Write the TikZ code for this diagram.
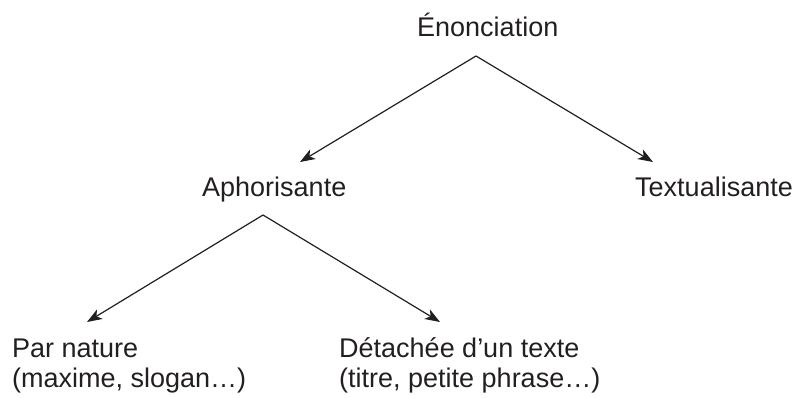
\documentclass[tikz,border=0pt]{standalone}
\usepackage{fontspec}
\setmainfont{Liberation Sans}
\usetikzlibrary{arrows.meta}
\definecolor{ink}{HTML}{231F20}
\begin{document}
\begin{tikzpicture}[x=1pt,y=-1pt,
  lbl/.style={inner sep=0pt,anchor=base west,text=ink,font=\fontsize{27}{31}\selectfont,align=left},
  arr/.style={draw=ink,line width=1.2pt,-{Stealth[length=15pt,width=11pt,inset=4pt]}}]
\useasboundingbox (0,0) rectangle (796,398);
\node[lbl] (enon) at (417,37) {Énonciation};
\node[lbl] (aph) at (202,197) {Aphorisante};
\node[lbl] (text) at (635,197) {Textualisante};
\node[lbl] (nat) at (12,388) {Par nature\\(maxime, slogan…)};
\node[lbl] (det) at (339,388) {Détachée d’un texte\\(titre, petite phrase…)};
\coordinate (e0) at (476,56);
\coordinate (e1) at (300,162);
\coordinate (e2) at (653,162);
\coordinate (a0) at (263,215);
\coordinate (a1) at (87,322);
\coordinate (a2) at (440,322);
\draw[arr] (e0) -- (e1);
\draw[arr] (e0) -- (e2);
\draw[arr] (a0) -- (a1);
\draw[arr] (a0) -- (a2);
\end{tikzpicture}
\end{document}
